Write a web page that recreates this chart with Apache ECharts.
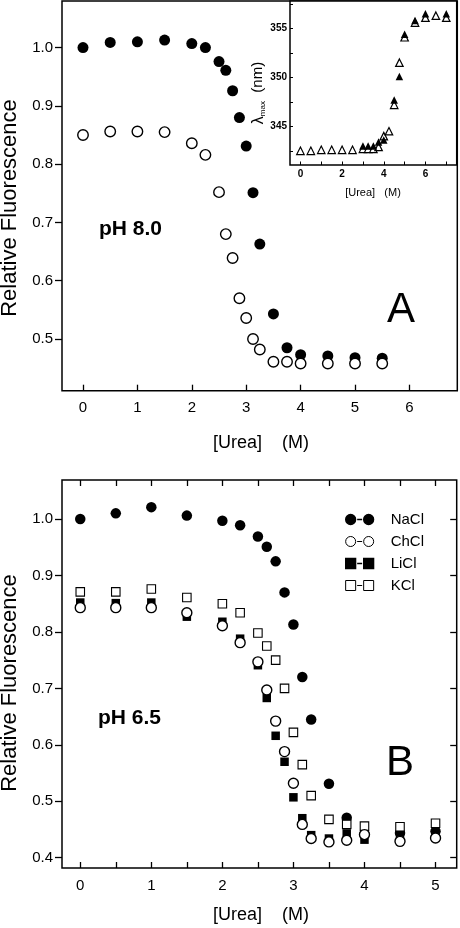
<!DOCTYPE html>
<html><head><meta charset="utf-8">
<script src="https://cdn.jsdelivr.net/npm/echarts@6/dist/echarts.min.js"></script>
<style>html,body{margin:0;padding:0;background:#fff}#c{width:460px;height:928px}</style>
</head><body><div id="c"></div>
<script>
// ---------- Panel A (pH 8.0) ----------
const ureaA = [0,0.5,1,1.5,2,2.25,2.5,2.625,2.75,2.875,3,3.125,3.25,3.5,3.75,4,4.5,5,5.5];
const fluorAFilled = [1.000,1.009,1.010,1.013,1.007,1.000,0.976,0.961,0.926,0.880,0.831,0.751,0.663,0.543,0.485,0.473,0.471,0.468,0.467];
const fluorAOpen   = [0.850,0.856,0.856,0.855,0.836,0.816,0.752,0.680,0.639,0.570,0.536,0.500,0.482,0.461,0.461,0.458,0.458,0.458,0.458];
const ticksAX = [0,1,2,3,4,5,6];
const ticksAY = [0.5,0.6,0.7,0.8,0.9,1.0];

// ---------- Inset (lambda max) ----------
const ureaInsetOpen = [0,0.5,1,1.5,2,2.5,3,3.25,3.5,3.75,4,4.25,4.5,4.75,5,5.5,6,6.5,7];
const lambdaOpen    = [342.5,342.5,342.6,342.6,342.6,342.6,342.7,342.7,342.7,342.9,344.0,344.5,347.2,351.5,354.1,355.6,356.1,356.3,356.1];
const ureaInsetFilled = [3,3.25,3.5,3.75,4,4.5,4.75,5,5.5,6,7];
const lambdaFilled    = [343.0,343.0,343.0,343.4,343.6,347.7,350.1,354.4,355.8,356.5,356.5];
const ticksInsetX = [0,1,2,3,4,5,6,7];
const labelsInsetX = [0,2,4,6];
const ticksInsetY = [342.5,345,347.5,350,352.5,355,357.5];
const labelsInsetY = [345,350,355];

// ---------- Panel B (pH 6.5) ----------
const ureaB = [0,0.5,1,1.5,2,2.25,2.5,2.625,2.75,2.875,3,3.125,3.25,3.5,3.75,4,4.5,5];
const nacl = [1.000,1.010,1.021,1.006,0.997,0.989,0.969,0.951,0.925,0.870,0.813,0.720,0.645,0.531,0.471,null,0.444,0.447];
const chcl = [0.843,0.843,0.843,0.834,0.811,0.781,0.747,0.697,0.642,0.588,0.532,0.459,0.434,0.428,0.431,0.441,0.429,0.435];
const licl = [0.852,0.851,0.852,0.827,0.818,0.788,0.741,0.683,0.616,0.570,0.507,0.470,0.440,0.434,0.443,0.432,0.441,0.444];
const kcl  = [0.871,0.871,0.876,0.861,0.850,0.834,0.798,0.775,0.750,0.700,0.622,0.565,0.510,0.468,0.459,0.456,0.455,0.461];
const ticksBX = [0,0.5,1,1.5,2,2.5,3,3.5,4,4.5,5];
const labelsBX = [0,1,2,3,4,5];
const ticksBY = [0.4,0.5,0.6,0.7,0.8,0.9,1.0];
const saltNames = ['NaCl','ChCl','LiCl','KCl'];
const xTitle = '[Urea]    (M)';
const yTitle = 'Relative Fluorescence';

const FONT = '"Liberation Sans", Arial, Helvetica, sans-serif';
const pairs = (xs, ys) => xs.map((x,i) => [x, ys[i]]).filter(p => p[1] !== null && p[1] !== undefined);
const filled = {color:'#000', opacity:1};
const open = {color:'#fff', borderColor:'#000', borderWidth:1.4, opacity:1};
const none = {show:false};
const noLine = {show:false, onZero:false};

const circlePair = 'path://M0,5A5,5 0 1,1 10,5A5,5 0 1,1 0,5ZM11.5,5L16.5,5M18,5A5,5 0 1,1 28,5A5,5 0 1,1 18,5Z';
const squarePair = 'path://M0,0L10,0L10,10L0,10ZM11.5,5L16.5,5M18,0L28,0L28,10L18,10Z';

const chart = echarts.init(document.getElementById('c'), null, {renderer:'canvas'});
const baseLabel = {color:'#000', fontFamily:FONT, fontSize:15};

chart.setOption({
  animation:false,
  backgroundColor:'#fff',
  grid:[
    {left:62, top:1, width:395.3, height:389.7, show:true, borderColor:'#000', borderWidth:1.5, backgroundColor:'transparent'},
    {left:290, top:1, width:166.7, height:164, show:true, borderColor:'#000', borderWidth:1.5, backgroundColor:'#fff'},
    {left:62, top:480, width:394.7, height:388, show:true, borderColor:'#000', borderWidth:1.5, backgroundColor:'transparent'}
  ],
  xAxis:[
    {gridIndex:0, type:'value', min:-0.386, max:6.88, axisLine:noLine, splitLine:none,
     axisTick:{inside:true, length:6, lineStyle:{color:'#000', width:1.3}, customValues:ticksAX},
     axisLabel:Object.assign({margin:10, customValues:ticksAX}, baseLabel)},
    {gridIndex:1, type:'value', min:-0.5, max:7.5, axisLine:noLine, splitLine:none,
     axisTick:{inside:true, length:3.5, lineStyle:{color:'#000', width:1}, customValues:ticksInsetX},
     axisLabel:{margin:4, customValues:labelsInsetX, color:'#000', fontFamily:FONT, fontSize:10, fontWeight:'bold'}},
    {gridIndex:2, type:'value', min:-0.257, max:5.298, axisLine:noLine, splitLine:none,
     axisTick:{inside:true, length:6, lineStyle:{color:'#000', width:1.3}, customValues:ticksBX},
     axisLabel:Object.assign({margin:10, customValues:labelsBX}, baseLabel)},
    {gridIndex:2, type:'value', position:'top', min:-0.257, max:5.298, axisLine:noLine, splitLine:none,
     axisTick:{inside:true, length:6, lineStyle:{color:'#000', width:1.3}, customValues:ticksBX},
     axisLabel:{show:false}}
  ],
  yAxis:[
    {gridIndex:0, type:'value', min:0.4113, max:1.080, axisLine:noLine, splitLine:none,
     axisTick:{inside:false, length:7, lineStyle:{color:'#000', width:1.3}, customValues:ticksAY},
     axisLabel:Object.assign({margin:9, customValues:ticksAY, formatter:v=>v.toFixed(1)}, baseLabel)},
    {gridIndex:1, type:'value', min:341.05, max:357.8, axisLine:noLine, splitLine:none,
     axisTick:{inside:true, length:3, lineStyle:{color:'#000', width:1}, customValues:ticksInsetY},
     axisLabel:{margin:3, customValues:labelsInsetY, color:'#000', fontFamily:FONT, fontSize:10, fontWeight:'bold'}},
    {gridIndex:2, type:'value', min:0.3818, max:1.0691, axisLine:noLine, splitLine:none,
     axisTick:{inside:false, length:7, lineStyle:{color:'#000', width:1.3}, customValues:ticksBY},
     axisLabel:Object.assign({margin:9, customValues:ticksBY, formatter:v=>v.toFixed(1)}, baseLabel)},
    {gridIndex:2, type:'value', position:'right', min:0.3818, max:1.0691, axisLine:noLine, splitLine:none,
     axisTick:{inside:true, length:6.5, lineStyle:{color:'#000', width:1.3}, customValues:ticksBY},
     axisLabel:{show:false}}
  ],
  legend:{
    orient:'vertical', left:340, top:507, itemWidth:28, itemHeight:10, itemGap:7,
    textStyle:{color:'#000', fontFamily:FONT, fontSize:15, padding:[0,0,0,12]},
    data:[
      {name:'NaCl', icon:circlePair, itemStyle:{color:'#000', borderColor:'#000', borderWidth:1.3, opacity:1}},
      {name:'ChCl', icon:circlePair, itemStyle:{color:'#fff', borderColor:'#000', borderWidth:1, opacity:1}},
      {name:'LiCl', icon:squarePair, itemStyle:{color:'#000', borderColor:'#000', borderWidth:1.3, opacity:1}},
      {name:'KCl',  icon:squarePair, itemStyle:{color:'#fff', borderColor:'#000', borderWidth:1, opacity:1}}
    ]
  },
  series:[
    {name:'A filled', type:'scatter', xAxisIndex:0, yAxisIndex:0, symbol:'circle', symbolSize:11, itemStyle:filled, data:pairs(ureaA, fluorAFilled), silent:true},
    {name:'A open', type:'scatter', xAxisIndex:0, yAxisIndex:0, symbol:'circle', symbolSize:10.5, itemStyle:open, data:pairs(ureaA, fluorAOpen), silent:true},
    {name:'inset open', type:'scatter', xAxisIndex:1, yAxisIndex:1, symbol:'triangle', symbolSize:7.5, itemStyle:{color:'#fff', borderColor:'#000', borderWidth:1.2, opacity:1}, data:pairs(ureaInsetOpen, lambdaOpen), silent:true},
    {name:'inset filled', type:'scatter', xAxisIndex:1, yAxisIndex:1, symbol:'triangle', symbolSize:7.5, itemStyle:filled, data:pairs(ureaInsetFilled, lambdaFilled), silent:true},
    {name:saltNames[0], type:'scatter', xAxisIndex:2, yAxisIndex:2, symbol:'circle', symbolSize:10.5, itemStyle:filled, data:pairs(ureaB, nacl), silent:true},
    {name:saltNames[2], type:'scatter', xAxisIndex:2, yAxisIndex:2, symbol:'rect', symbolSize:8.5, itemStyle:filled, data:pairs(ureaB, licl), silent:true},
    {name:saltNames[3], type:'scatter', xAxisIndex:2, yAxisIndex:2, symbol:'rect', symbolSize:8.5, itemStyle:{color:'#fff', borderColor:'#000', borderWidth:1.1, opacity:1}, data:pairs(ureaB, kcl), silent:true},
    {name:saltNames[1], type:'scatter', xAxisIndex:2, yAxisIndex:2, symbol:'circle', symbolSize:10, itemStyle:open, data:pairs(ureaB, chcl), silent:true}
  ],
  graphic:[
    {type:'text', x:10, y:208, rotation:Math.PI/2, style:{text:yTitle, font:'22px ' + FONT, fill:'#000', align:'center', verticalAlign:'middle', textAlign:'center', textVerticalAlign:'middle'}},
    {type:'text', x:10, y:683, rotation:Math.PI/2, style:{text:yTitle, font:'22px ' + FONT, fill:'#000', align:'center', verticalAlign:'middle', textAlign:'center', textVerticalAlign:'middle'}},
    {type:'text', x:261, y:443, style:{text:xTitle, font:'18px ' + FONT, fill:'#000', align:'center', verticalAlign:'middle', textAlign:'center', textVerticalAlign:'middle'}},
    {type:'text', x:261, y:915, style:{text:xTitle, font:'18px ' + FONT, fill:'#000', align:'center', verticalAlign:'middle', textAlign:'center', textVerticalAlign:'middle'}},
    {type:'text', x:373, y:193, style:{text:'[Urea]   (M)', font:'11px ' + FONT, fill:'#000', align:'center', verticalAlign:'middle', textAlign:'center', textVerticalAlign:'middle'}},
    {type:'text', x:258, y:93, rotation:Math.PI/2, style:{
      text:'{l|λ}{s|max}  (nm)', font:'15px ' + FONT, fill:'#000', align:'center', verticalAlign:'middle', textAlign:'center', textVerticalAlign:'middle',
      rich:{l:{fontSize:16, fontFamily:FONT, lineHeight:18, verticalAlign:'bottom'}, s:{fontSize:8, fontFamily:FONT, lineHeight:10, verticalAlign:'bottom'}}}},
    {type:'text', x:99, y:229, style:{text:'pH 8.0', font:'bold 21px ' + FONT, fill:'#000', align:'left', verticalAlign:'middle', textAlign:'left', textVerticalAlign:'middle'}},
    {type:'text', x:98, y:718, style:{text:'pH 6.5', font:'bold 21px ' + FONT, fill:'#000', align:'left', verticalAlign:'middle', textAlign:'left', textVerticalAlign:'middle'}},
    {type:'text', x:401, y:310, style:{text:'A', font:'42px ' + FONT, fill:'#000', align:'center', verticalAlign:'middle', textAlign:'center', textVerticalAlign:'middle'}},
    {type:'text', x:400, y:763, style:{text:'B', font:'42px ' + FONT, fill:'#000', align:'center', verticalAlign:'middle', textAlign:'center', textVerticalAlign:'middle'}}
  ]
});
</script></body></html>
